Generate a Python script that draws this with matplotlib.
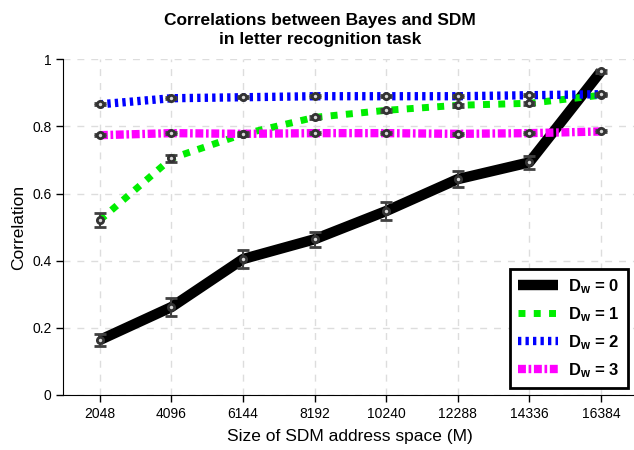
import matplotlib
matplotlib.use('Agg')
import matplotlib.pyplot as plt

plt.rcParams['font.family'] = ['Liberation Sans', 'DejaVu Sans']
plt.rcParams['mathtext.fontset'] = 'custom'
plt.rcParams['mathtext.rm'] = 'Liberation Sans'
plt.rcParams['mathtext.bf'] = 'Liberation Sans:bold'
plt.rcParams['mathtext.it'] = 'Liberation Sans:italic'

sizes = [2048, 4096, 6144, 8192, 10240, 12288, 14336, 16384]

corr_d0 = [0.164, 0.262, 0.405, 0.464, 0.548, 0.643, 0.693, 0.964]
err_d0 = [0.019, 0.026, 0.028, 0.023, 0.026, 0.023, 0.020, 0.005]
corr_d1 = [0.521, 0.705, 0.777, 0.827, 0.848, 0.863, 0.869, 0.893]
err_d1 = [0.020, 0.010, 0.006, 0.005, 0.004, 0.004, 0.004, 0.003]
corr_d2 = [0.866, 0.884, 0.887, 0.890, 0.890, 0.890, 0.893, 0.896]
err_d2 = [0.003, 0.003, 0.003, 0.003, 0.003, 0.003, 0.003, 0.003]
corr_d3 = [0.774, 0.780, 0.778, 0.780, 0.780, 0.778, 0.780, 0.785]
err_d3 = [0.003, 0.003, 0.003, 0.003, 0.003, 0.003, 0.003, 0.003]

labels = [r'$\mathbf{D_w}$ = 0', r'$\mathbf{D_w}$ = 1',
          r'$\mathbf{D_w}$ = 2', r'$\mathbf{D_w}$ = 3']

fig = plt.figure(figsize=(6.34, 4.5), dpi=100)
ax = fig.add_axes([63.3 / 634, 55 / 450, 573.4 / 634, 335.7 / 450])

ax.plot(sizes, corr_d0, color='black', lw=7.5, solid_capstyle='butt', label=labels[0])
ax.plot(sizes, corr_d1, color='#00ee00', lw=5, dashes=(1.0, 1.2), label=labels[1])
ax.plot(sizes, corr_d2, color='#0000ff', lw=6, dashes=(0.4, 0.5), label=labels[2])
ax.plot(sizes, corr_d3, color='#ff00ff', lw=6, dashes=(0.95, 0.32, 0.32, 0.32), label=labels[3])

# markers and error bars on top of all lines
for vals, errs in [(corr_d0, err_d0), (corr_d1, err_d1), (corr_d2, err_d2), (corr_d3, err_d3)]:
    ax.errorbar(sizes, vals, yerr=errs, fmt='o', color='#404040', ms=4.5, mfc='#d8d8d8',
                mec='#333333', mew=2, elinewidth=1.5, capsize=4, capthick=2, zorder=5)

ax.set_xlim(1000, 17408)
ax.set_ylim(0, 1)
ax.set_xticks(sizes)
ax.set_yticks([0, 0.2, 0.4, 0.6, 0.8, 1])
ax.set_yticklabels(['0', '0.2', '0.4', '0.6', '0.8', '1'])
ax.tick_params(labelsize=10, direction='out', length=5, width=1)
ax.spines['top'].set_visible(False)
ax.spines['right'].set_visible(False)
ax.grid(True, linestyle=(0, (5, 5)), color='#dddddd', lw=1)
ax.set_axisbelow(True)

ax.set_xlabel('Size of SDM address space (M)', fontsize=12.5, labelpad=6)
ax.set_ylabel('Correlation', fontsize=12.5, labelpad=4)
ax.set_title('Correlations between Bayes and SDM\nin letter recognition task',
             fontsize=12.5, fontweight='bold', x=(320 - 63.3) / 573.4, pad=11,
             linespacing=1.3)

leg = ax.legend(loc='lower right', bbox_to_anchor=(0.985, 0.021), borderaxespad=0,
                prop={'size': 12, 'weight': 'bold'},
                handlelength=2.4, fancybox=False, framealpha=1, edgecolor='black',
                borderpad=0.5, labelspacing=0.55, handletextpad=0.6)
leg.get_frame().set_linewidth(2)

fig.savefig('out.png', dpi=100)
